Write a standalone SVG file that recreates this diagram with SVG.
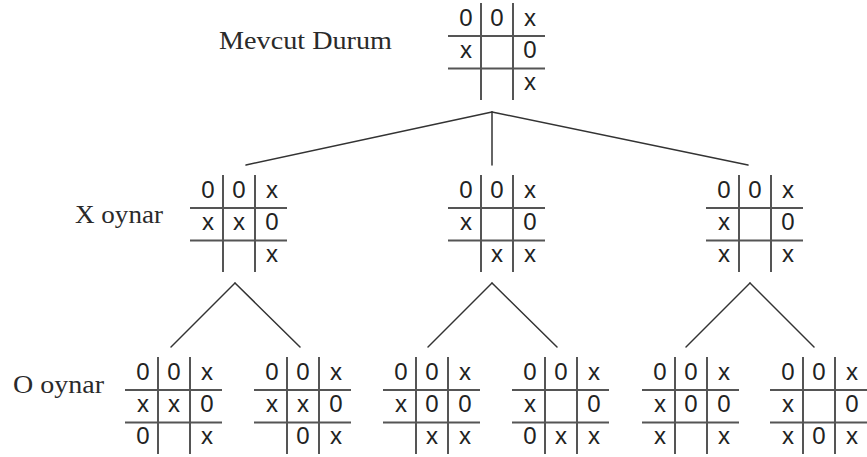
<svg xmlns="http://www.w3.org/2000/svg" xmlns:xlink="http://www.w3.org/1999/xlink" width="867" height="457" viewBox="0 0 867 457">
<style>
.lbl{font-family:"Liberation Serif","Times New Roman",serif;font-size:25px;fill:#2a2a2a}
.g{font-family:"Liberation Sans",Arial,sans-serif;font-size:24px;fill:#222;text-anchor:middle}
.grid line{stroke:#555;stroke-width:2}
.conn line{stroke:#333;stroke-width:1.5;stroke-linecap:round}
</style>
<defs>
<g id="grid" class="grid">
<line x1="0" y1="33" x2="97" y2="33"/>
<line x1="0" y1="65.5" x2="97" y2="65.5"/>
<line x1="33" y1="0" x2="33" y2="97"/>
<line x1="65" y1="0" x2="65" y2="97"/>
</g>
</defs>
<rect width="867" height="457" fill="#fff"/>
<text class="lbl" x="219" y="49" textLength="173" lengthAdjust="spacingAndGlyphs">Mevcut Durum</text>
<text class="lbl" x="75" y="223" textLength="88" lengthAdjust="spacingAndGlyphs">X oynar</text>
<text class="lbl" x="13" y="393" textLength="91" lengthAdjust="spacingAndGlyphs">O oynar</text>
<g id="connectors" class="conn">
<line x1="492" y1="112" x2="246" y2="165"/>
<line x1="492" y1="112" x2="492" y2="165"/>
<line x1="492" y1="112" x2="748" y2="165"/>
<line x1="235" y1="283" x2="171" y2="347"/>
<line x1="235" y1="283" x2="300" y2="347"/>
<line x1="492" y1="283" x2="428" y2="347"/>
<line x1="492" y1="283" x2="557" y2="347"/>
<line x1="750" y1="283" x2="686" y2="347"/>
<line x1="750" y1="283" x2="814" y2="347"/>
</g>
<g id="root" transform="translate(448,3)">
<use xlink:href="#grid"/>
<text class="g" x="18" y="23">0</text><text class="g" x="49" y="23">0</text><text class="g" x="82" y="23">x</text>
<text class="g" x="18" y="55">x</text><text class="g" x="82" y="55">0</text>
<text class="g" x="82" y="87">x</text>
</g>
<g id="x1" transform="translate(190,175)">
<use xlink:href="#grid"/>
<text class="g" x="18" y="23">0</text><text class="g" x="49" y="23">0</text><text class="g" x="82" y="23">x</text>
<text class="g" x="18" y="55">x</text><text class="g" x="49" y="55">x</text><text class="g" x="82" y="55">0</text>
<text class="g" x="82" y="87">x</text>
</g>
<g id="x2" transform="translate(448,175)">
<use xlink:href="#grid"/>
<text class="g" x="18" y="23">0</text><text class="g" x="49" y="23">0</text><text class="g" x="82" y="23">x</text>
<text class="g" x="18" y="55">x</text><text class="g" x="82" y="55">0</text>
<text class="g" x="49" y="87">x</text><text class="g" x="82" y="87">x</text>
</g>
<g id="x3" transform="translate(706,175)">
<use xlink:href="#grid"/>
<text class="g" x="18" y="23">0</text><text class="g" x="49" y="23">0</text><text class="g" x="82" y="23">x</text>
<text class="g" x="18" y="55">x</text><text class="g" x="82" y="55">0</text>
<text class="g" x="18" y="87">x</text><text class="g" x="82" y="87">x</text>
</g>
<g id="o1" transform="translate(125,357)">
<use xlink:href="#grid"/>
<text class="g" x="18" y="23">0</text><text class="g" x="49" y="23">0</text><text class="g" x="82" y="23">x</text>
<text class="g" x="18" y="55">x</text><text class="g" x="49" y="55">x</text><text class="g" x="82" y="55">0</text>
<text class="g" x="18" y="87">0</text><text class="g" x="82" y="87">x</text>
</g>
<g id="o2" transform="translate(254,357)">
<use xlink:href="#grid"/>
<text class="g" x="18" y="23">0</text><text class="g" x="49" y="23">0</text><text class="g" x="82" y="23">x</text>
<text class="g" x="18" y="55">x</text><text class="g" x="49" y="55">x</text><text class="g" x="82" y="55">0</text>
<text class="g" x="49" y="87">0</text><text class="g" x="82" y="87">x</text>
</g>
<g id="o3" transform="translate(383,357)">
<use xlink:href="#grid"/>
<text class="g" x="18" y="23">0</text><text class="g" x="49" y="23">0</text><text class="g" x="82" y="23">x</text>
<text class="g" x="18" y="55">x</text><text class="g" x="49" y="55">0</text><text class="g" x="82" y="55">0</text>
<text class="g" x="49" y="87">x</text><text class="g" x="82" y="87">x</text>
</g>
<g id="o4" transform="translate(512,357)">
<use xlink:href="#grid"/>
<text class="g" x="18" y="23">0</text><text class="g" x="49" y="23">0</text><text class="g" x="82" y="23">x</text>
<text class="g" x="18" y="55">x</text><text class="g" x="82" y="55">0</text>
<text class="g" x="18" y="87">0</text><text class="g" x="49" y="87">x</text><text class="g" x="82" y="87">x</text>
</g>
<g id="o5" transform="translate(642,357)">
<use xlink:href="#grid"/>
<text class="g" x="18" y="23">0</text><text class="g" x="49" y="23">0</text><text class="g" x="82" y="23">x</text>
<text class="g" x="18" y="55">x</text><text class="g" x="49" y="55">0</text><text class="g" x="82" y="55">0</text>
<text class="g" x="18" y="87">x</text><text class="g" x="82" y="87">x</text>
</g>
<g id="o6" transform="translate(770,357)">
<use xlink:href="#grid"/>
<text class="g" x="18" y="23">0</text><text class="g" x="49" y="23">0</text><text class="g" x="82" y="23">x</text>
<text class="g" x="18" y="55">x</text><text class="g" x="82" y="55">0</text>
<text class="g" x="18" y="87">x</text><text class="g" x="49" y="87">0</text><text class="g" x="82" y="87">x</text>
</g>
</svg>
